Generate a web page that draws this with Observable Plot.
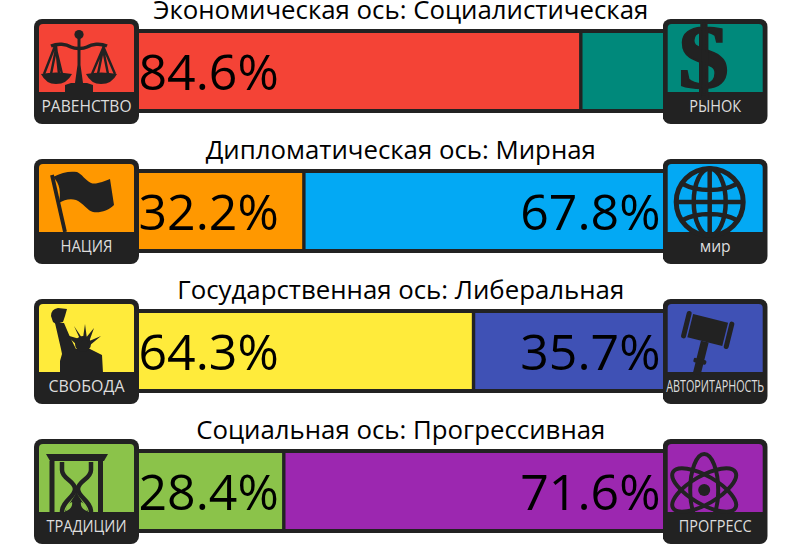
<!DOCTYPE html>
<html><head><meta charset="utf-8">
<style>html,body{margin:0;padding:0;background:#fff}svg{display:block}</style>
<script src="https://cdn.jsdelivr.net/npm/d3@7"></script>
<script src="https://cdn.jsdelivr.net/npm/@observablehq/plot@0.6"></script>
</head><body><div id="chart"></div>
<script>
const titles = ["Экономическая ось: Социалистическая","Дипломатическая ось: Мирная","Государственная ось: Либеральная","Социальная ось: Прогрессивная"];
const leftValues = [84.6,32.2,64.3,28.4];
const rightValues = [15.4,67.8,35.7,71.6];
const leftColors = ["#f44336","#ff9800","#ffeb3b","#8bc34a"];
const rightColors = ["#00897b","#03a9f4","#3f51b5","#9c27b0"];
const leftLabels = ["РАВЕНСТВО","НАЦИЯ","СВОБОДА","ТРАДИЦИИ"];
const rightLabels = ["РЫНОК","мир","АВТОРИТАРНОСТЬ","ПРОГРЕСС"];
const leftLabelWidths = [90,52,76,80];
const rightLabelWidths = [52,31,98,73];
const DARK = "#222222";

const G = `fill="${DARK}"`, S = w => `fill="none" stroke="${DARK}" stroke-width="${w}"`;
const glyphs = {
  scales: `<circle cx="45" cy="15.5" r="4.6" ${G}/>
    <path d="M43.500 19h3V46L49 64H41L43.500 46Z" ${G}/><path d="M31 73V66L37 64H53L59 66V73Z" ${G}/>
    <path d="M17 27C24 24 32 25 37 28C41 30 49 30 53 28C58 25 66 24 73 27" ${S(3.4)}/>
    <path d="M21 27 10 55M22 27 25 55M17 55 22 30M28 55 22 30" ${S(2.4)}/>
    <path d="M70 27 58 55M69 27 81 55M64 55 69 30M74 55 69 30" ${S(2.4)}/>
    <path d="M7 55Q22 52 38 55Q33 65 22 65Q12 65 7 55Z" ${G}/>
    <path d="M52 55Q67 52 83 55Q78 65 67 65Q57 65 52 55Z" ${G}/>`,
  dollar: `<text transform="translate(41 69) scale(1.12 1)" text-anchor="middle" font-family="Liberation Serif" font-weight="bold" font-size="90" ${G} stroke="${DARK}" stroke-width="2">$</text>
    <path d="M37.500 9V79M44.500 9V79" ${S(2.4)}/>`,
  flag: `<path d="M18 16 31 73" ${S(3.8)}/>
    <path d="M19 18C28 13 36 12 43 13C48 15 51 21 57 24C62 26 70 22 76 20L80 46C74 52 66 54 59 53C54 52 49 44 42 41C36 39 30 41 25 44C27 34 26 24 19 18Z" ${G}/>`,
  liberty: `<path d="M17 17Q17 10 24 9L33 10 31 17 29 23 22 25 19 23Z" ${G}/>
    <path d="M21 24 30 24 36 38 42 50H56L68 56 69 74H26V62L28 55 27 50Z" ${G}/>
    <circle cx="49" cy="45" r="8" ${G}/>
    <path d="M49 41 32 36 44 47ZM48 39 40 27 46 40ZM49 39 51 25 53 40ZM51 40 60 29 55 43ZM53 43 67 37 55 47Z" ${G}/>`,
  hourglass: `<path d="M12 15H74L70 22H16Z" ${G}/><path d="M18 22V73M66.500 22V73" ${S(5)}/>
    <path d="M28 23V31C28 40 41 42 41 50C41 58 28 62 28 73M57 23V31C57 40 44 42 44 50C44 58 57 62 57 73" ${S(4.500)}/>
    <path d="M42.500 52C40 60 33 66 31 73H54C52 66 45 60 42.500 52Z" ${G}/>
    <path d="M38 63C33 65 32 69 32 72C36 71 39 67 38 63ZM47 63C52 65 53 69 53 72C49 71 46 67 47 63Z" fill="var(--c)"/>`,
  globe: `<circle cx="47" cy="43" r="33.500" ${S(5)}/><ellipse cx="47" cy="43" rx="16" ry="33.500" ${S(4.500)}/>
    <path d="M47 10V76M14 43H80M20 25C35 33 59 33 74 25M20 61C35 53 59 53 74 61" ${S(4.500)}/>`,
  gavel: `<g transform="rotate(14 45 31)"><rect x="27" y="19" width="36" height="24" ${G}/>
    <rect x="20.500" y="17" width="5" height="28" rx="2.500" ${G}/><rect x="64.500" y="17" width="5" height="28" rx="2.500" ${G}/>
    <rect x="41" y="43" width="8" height="34" ${G}/><rect x="38.500" y="61" width="13" height="4.500" rx="1.500" ${G}/></g>`,
  atom: `<circle cx="41.500" cy="51" r="6" ${G}/>
    <g ${S(4)}><ellipse cx="41.500" cy="51" rx="14" ry="36"/><ellipse cx="41.500" cy="51" rx="14" ry="36" transform="rotate(60 41.500 51)"/><ellipse cx="41.500" cy="51" rx="14" ry="36" transform="rotate(120 41.500 51)"/></g>`
};
const badge = (color, glyph) => "data:image/svg+xml," + encodeURIComponent(
  `<svg xmlns="http://www.w3.org/2000/svg" width="105" height="105" viewBox="0 0 105 105" style="--c:${color}">
   <rect width="105" height="105" rx="8" fill="${DARK}"/>
   <path d="M5 73V9a4 4 0 0 1 4-4H96a4 4 0 0 1 4 4V73Z" fill="${color}"/>${glyph}</svg>`);
const leftGlyphs = ["scales","flag","liberty","hourglass"];
const rightGlyphs = ["dollar","globe","gavel","atom"];

const rows = titles.map((title,i)=>({title,l:leftValues[i],r:rightValues[i],lc:leftColors[i],rc:rightColors[i],
  ll:leftLabels[i],rl:rightLabels[i],li:badge(leftColors[i],glyphs[leftGlyphs[i]]),ri:badge(rightColors[i],glyphs[rightGlyphs[i]])}));
const font = "'Open Sans'";

const chart = Plot.plot({
  width:800,height:560,margin:0,
  style:{background:"#fff",fontFamily:font},
  x:{domain:[0,100],range:[132,660.5],axis:null},
  y:{type:"band",domain:titles,range:[0.5,560.5],paddingInner:0.4,paddingOuter:0.2,axis:null},
  color:{type:"identity"},
  marks:[
    Plot.barX(rows,{x1:()=>0,x2:()=>100,y:"title",fill:DARK,insetLeft:-8,insetRight:-8}),
    Plot.barX(rows,{x1:()=>0,x2:"l",y:"title",fill:"lc",insetTop:4,insetBottom:4,insetLeft:-5}),
    Plot.barX(rows,{x1:"l",x2:()=>100,y:"title",fill:"rc",insetTop:4,insetBottom:4,insetLeft:3.4,insetRight:-5}),
    Plot.text(rows,{x:()=>0,y:"title",text:d=>d.l.toFixed(1)+"%",textAnchor:"start",dx:6,dy:2,fontSize:50,fill:"#000"}),
    Plot.text(rows.filter(d=>d.r>=20),{x:()=>100,y:"title",text:d=>d.r.toFixed(1)+"%",textAnchor:"end",dx:-0.5,dy:2,fontSize:50,fill:"#000"}),
    Plot.text(rows,{x:()=>50,y:"title",text:"title",dx:4,dy:-60.5,fontSize:25.8,fill:"#000"}),
    Plot.image(rows,{x:()=>0,y:"title",src:"li",width:105,height:105,dx:-46}),
    Plot.image(rows,{x:()=>100,y:"title",src:"ri",width:105,height:105,dx:54.2}),
    Plot.text(rows,{x:()=>0,y:"title",text:"ll",dx:-46,dy:35,fontSize:16.5,fontWeight:500,fill:"#dddddd",className:"lab-l"}),
    Plot.text(rows,{x:()=>100,y:"title",text:"rl",dx:54.2,dy:35,fontSize:16.5,fontWeight:500,fill:"#dddddd",className:"lab-r"})
  ]
});
const fit=(cls,w)=>chart.querySelectorAll(`.${cls} text`).forEach((t,i)=>{t.setAttribute("textLength",w[i]);t.setAttribute("lengthAdjust","spacingAndGlyphs");});
fit("lab-l",leftLabelWidths);fit("lab-r",rightLabelWidths);
document.getElementById("chart").appendChild(chart);
</script></body></html>
